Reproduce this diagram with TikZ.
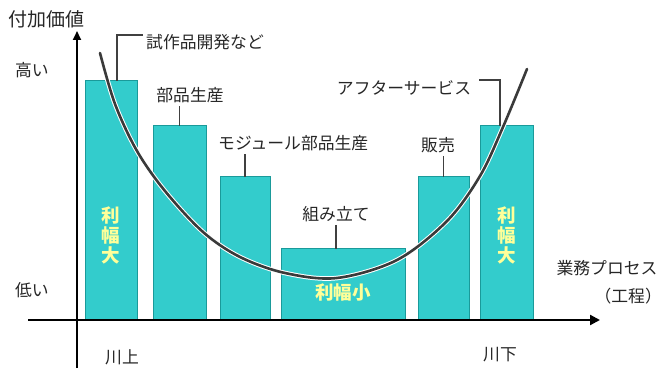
\documentclass[tikz,border=0pt]{standalone}
\usepackage{fontspec}
\newfontfamily\jp{Noto Sans CJK JP}
\usetikzlibrary{arrows.meta,calc}
\definecolor{barfill}{HTML}{33CCCC}
\definecolor{barline}{HTML}{1A9A9A}
\definecolor{inyellow}{HTML}{FFFF99}
\definecolor{curvegray}{HTML}{3A3A3A}
\tikzset{
  bar/.style={draw=barline, line width=1pt, fill=barfill, inner sep=0pt, outer sep=0pt, anchor=south west},
  lbl/.style={font=\jp\fontsize{16.8}{18}\selectfont, inner sep=0pt, text=black!85},
  inlbl/.style={font=\jp\bfseries\fontsize{18.5}{20}\selectfont, text=inyellow, align=center, inner sep=0pt},
  leader/.style={draw=black!75, line width=1.3pt},
  axis/.style={draw=black, line width=2.2pt},
}
\begin{document}
\begin{tikzpicture}[x=1pt,y=-1pt]
\useasboundingbox (0,0) rectangle (661,371);
% axes
\coordinate (ytop) at (77,31);
\coordinate (ybot) at (77,368);
\coordinate (xleft) at (28,320);
\coordinate (xright) at (600,320);
% bars
\node[bar, minimum width=52pt, minimum height=239pt] (b1) at (85,320) {};
\node[bar, minimum width=53pt, minimum height=194pt] (b2) at (153,320) {};
\node[bar, minimum width=50pt, minimum height=143pt] (b3) at (220,320) {};
\node[bar, minimum width=124pt, minimum height=71pt] (b4) at (281,320) {};
\node[bar, minimum width=51pt, minimum height=143pt] (b5) at (418,320) {};
\node[bar, minimum width=53pt, minimum height=194pt] (b6) at (480,320) {};
\draw[axis, -{Triangle[length=9pt,width=8pt]}] (ybot) -- (ytop);
\draw[axis, -{Triangle[length=10pt,width=10pt]}] (xleft) -- (xright);
% curve
\def\curvepts{(100,53) (115,104) (137,151) (165,191) (203,232) (240,257) (285,273) (337,278) (397,260) (447,221) (480,176) (503,127) (527,69)}
\draw[white, line width=4.6pt, line cap=round] plot[smooth, tension=0.55] coordinates {\curvepts};
\draw[curvegray, line width=2.6pt, line cap=round] plot[smooth, tension=0.55] coordinates {\curvepts};
% inside labels
\node[inlbl] (in1) at (111,235) {利\\幅\\大};
\node[inlbl] (in6) at (507,235) {利\\幅\\大};
\node[inlbl] (in4) at (343,292) {利幅小};
% axis labels
\node[lbl, font=\jp\fontsize{19}{20}\selectfont] (yl) at (47,19) {付加価値};
\node[lbl] (hi) at (32,70) {高い};
\node[lbl] (lo) at (32,290) {低い};
\node[lbl] (up) at (122,357) {川上};
\node[lbl] (dn) at (500,355) {川下};
\node[lbl] (xl) at (607,268) {業務プロセス};
\node[lbl] (xl2) at (632,296) {\hspace{-0.45em}（工程）\hspace{-0.45em}};
% process labels
\node[lbl, anchor=west] (l1) at (146,42) {試作品開発など};
\node[lbl] (l2) at (190,95) {部品生産};
\node[lbl, anchor=west] (l3) at (218,143) {モジュール部品生産};
\node[lbl] (l4) at (336,214) {組み立て};
\node[lbl] (l5) at (438,145) {販売};
\node[lbl] (l6) at (404,88) {アフターサービス};
% leaders
\draw[leader] ([xshift=32pt]b1.north west) |- ([xshift=-3pt,yshift=7pt]l1.west);
\draw[leader] (b2.north) -- ([yshift=-3pt]b2.north |- l2.south);
\draw[leader] (b3.north) -- ([yshift=-3pt]b3.north |- l3.south);
\draw[leader] ([yshift=-3pt]l4.south) -- (l4.south |- b4.north);
\draw[leader] (b5.north) -- ([yshift=-3pt]b5.north |- l5.south);
\draw[leader] ([xshift=20pt]b6.north west) |- ([xshift=8pt,yshift=8pt]l6.east);
\end{tikzpicture}
\end{document}
